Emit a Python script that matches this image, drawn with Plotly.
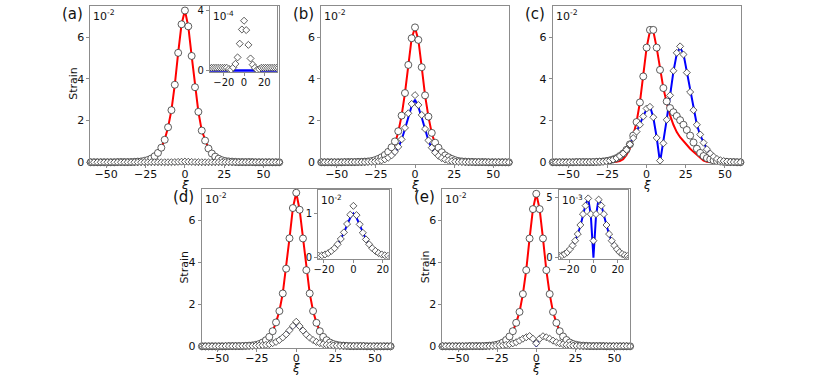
import plotly.graph_objects as go

W, H = 830, 378

# lattice sites (xi), k = -28 .. 28
K = list(range(-28, 29))
XI = [round(2.14 * k, 2) for k in K]

# ---------------- panel (a)  (units 1e-2) ----------------
a_circ = [0, 0, 0, 0, 0, 0, 0, 0, 0.01, 0.01, 0.01, 0.01,
          0.01, 0.02, 0.03, 0.04, 0.07, 0.11, 0.18, 0.29, 0.45, 0.70, 1.08, 1.68, 2.50, 3.72, 5.25, 6.62,
          7.28,
          6.52, 5.10, 3.60, 2.42, 1.52, 1.04, 0.66, 0.42, 0.27, 0.17, 0.10, 0.06, 0.04, 0.03, 0.02, 0.01,
          0.01, 0.01, 0.01, 0.01, 0, 0, 0, 0, 0, 0, 0, 0]
a_red = a_circ
a_blue = [0] * 57
# inset (a) diamonds, units 1e-4
a_diam_ins = [0.18] * 12 + \
    [0.18, 0.18, 0.18, 0.18, 0.18, 0.18, 0.18, 0.18, 0.18, 0.10, 0.05, 0.20, 0.44, 0.87, 1.78, 2.72,
     3.30,
     2.68, 1.70, 0.80, 0.39, 0.18, 0.05, 0.10, 0.18, 0.18, 0.18, 0.18, 0.18, 0.18, 0.18, 0.18, 0.18] + \
    [0.18] * 12

# ---------------- panel (b) ----------------
b_red = [0] * 15 + \
    [0.02, 0.04, 0.07, 0.12, 0.20, 0.33, 0.55, 0.89, 1.45, 2.24, 3.32, 4.67, 5.95,
     6.45,
     5.87, 4.56, 3.21, 2.19, 1.40, 0.87, 0.54, 0.33, 0.20, 0.12, 0.07, 0.04, 0.02] + [0] * 15
b_circ = [0, 0, 0, 0, 0, 0, 0, 0.01, 0.01, 0.01, 0.01, 0.02,
          0.02, 0.03, 0.04, 0.06, 0.10, 0.16, 0.24, 0.35, 0.50, 0.72, 1.00, 1.49, 2.24, 3.32, 4.67, 5.95,
          6.47,
          5.87, 4.56, 3.21, 2.19, 1.41, 0.94, 0.70, 0.48, 0.33, 0.24, 0.16, 0.10, 0.06, 0.04, 0.03, 0.02,
          0.02, 0.01, 0.01, 0.01, 0.01, 0, 0, 0, 0, 0, 0, 0]
b_blue = [0, 0, 0, 0, 0, 0, 0, 0, 0, 0, 0, 0, 0, 0, 0.01, 0.01,
          0.02, 0.03, 0.06, 0.10, 0.16, 0.27, 0.44, 0.70, 1.08, 1.60, 2.20, 2.70,
          3.00,
          2.65, 2.15, 1.55, 1.04, 0.67, 0.42, 0.26, 0.16, 0.10, 0.06, 0.03, 0.02,
          0.01, 0.01, 0, 0, 0, 0, 0, 0, 0, 0, 0, 0, 0, 0, 0, 0]
b_diam = [0, 0, 0, 0, 0, 0, 0, 0, 0, 0.01, 0.01, 0.01, 0.01, 0.01, 0.02, 0.02,
          0.03, 0.05, 0.09, 0.14, 0.22, 0.33, 0.50, 0.74, 1.10, 1.65, 2.35, 2.80,
          3.22,
          2.75, 2.27, 1.60, 1.05, 0.70, 0.47, 0.31, 0.20, 0.13, 0.08, 0.05, 0.03,
          0.02, 0.02, 0.01, 0.01, 0.01, 0.01, 0.01, 0, 0, 0, 0, 0, 0, 0, 0, 0]

# ---------------- panel (c) ----------------
c_red = [0] * 19 + \
    [0.02, 0.06, 0.15, 0.35, 0.68, 1.28, 1.93, 2.87, 4.12,
     5.50,
     6.30, 6.30, 5.50, 4.43, 3.56, 2.85, 2.25, 1.80, 1.45, 1.20, 1.00, 0.82, 0.65, 0.50, 0.35, 0.20,
     0.08, 0.02, 0] + [0] * 9
c_circ = [0, 0, 0, 0, 0, 0, 0, 0.01, 0.01, 0.01, 0.01, 0.01, 0.01, 0.02,
          0.02, 0.04, 0.06, 0.09, 0.14, 0.20, 0.30, 0.42, 0.60, 0.86, 1.28, 1.93, 2.87, 4.12,
          5.50,
          6.35, 6.35, 5.50, 4.43, 3.56, 2.92, 2.60, 2.40, 2.22, 2.02, 1.80, 1.55, 1.28, 0.95, 0.65, 0.45,
          0.30, 0.20, 0.14, 0.09, 0.06, 0.04, 0.02, 0.01,
          0.01, 0.01, 0, 0]
c_blue = [0] * 15 + \
    [0.01, 0.02, 0.04, 0.08, 0.15, 0.25, 0.40, 0.60, 0.86, 1.16, 1.47, 1.80, 2.20,
     2.55,
     2.70, 2.15, 1.20, 0.0, 0.93, 2.05, 3.20, 4.35, 5.20, 5.50, 5.20, 4.35, 3.40, 2.50, 1.80, 1.30,
     0.92, 0.62, 0.40, 0.25, 0.15, 0.09, 0.05, 0.03, 0.01, 0, 0, 0]
c_diam = [0, 0, 0, 0, 0, 0, 0, 0.01, 0.01, 0.01, 0.01, 0.01, 0.02, 0.02, 0.03,
          0.03, 0.05, 0.08, 0.13, 0.20, 0.30, 0.42, 0.60, 0.86, 1.16, 1.47, 1.80, 2.20,
          2.58,
          2.66, 2.16, 1.17, 0.08, 0.91, 2.04, 3.21, 4.39, 5.25, 5.56, 5.17, 4.30, 3.37, 2.50, 1.80, 1.33,
          0.94, 0.63, 0.42, 0.27, 0.16, 0.10, 0.06, 0.04, 0.02, 0.01, 0.01, 0]

# ---------------- panel (d) ----------------
d_circ = [0, 0, 0, 0, 0, 0, 0, 0, 0.01, 0.01, 0.01, 0.01,
          0.01, 0.02, 0.03, 0.04, 0.07, 0.11, 0.18, 0.29, 0.45, 0.72, 1.14, 1.68, 2.52, 3.70, 5.15, 6.59,
          7.32,
          6.51, 5.14, 3.63, 2.52, 1.68, 1.12, 0.72, 0.45, 0.29, 0.18, 0.11, 0.07, 0.04, 0.03, 0.02, 0.01,
          0.01, 0.01, 0.01, 0.01, 0, 0, 0, 0, 0, 0, 0, 0]
d_red = d_circ
d_blue = [0] * 13 + [0.01, 0.01] + \
    [0.01, 0.02, 0.03, 0.05, 0.07, 0.10, 0.14, 0.20, 0.29, 0.41, 0.56, 0.74, 0.90,
     1.00,
     0.90, 0.74, 0.56, 0.41, 0.29, 0.20, 0.14, 0.10, 0.07, 0.05, 0.03, 0.02, 0.01] + \
    [0.01, 0.01] + [0] * 13
d_diam = [0, 0, 0, 0, 0, 0, 0, 0.01, 0.01, 0.01, 0.01, 0.01, 0.02, 0.02, 0.02,
          0.02, 0.03, 0.04, 0.05, 0.07, 0.10, 0.15, 0.21, 0.30, 0.42, 0.57, 0.76, 0.97,
          1.17,
          0.96, 0.75, 0.56, 0.41, 0.30, 0.21, 0.15, 0.10, 0.07, 0.05, 0.04, 0.03, 0.02,
          0.02, 0.02, 0.01, 0.01, 0.01, 0.01, 0.01, 0, 0, 0, 0, 0, 0, 0, 0]

# ---------------- panel (e) ----------------
e_circ = [0, 0, 0, 0, 0, 0, 0, 0, 0.01, 0.01, 0.01, 0.01,
          0.01, 0.02, 0.03, 0.04, 0.07, 0.11, 0.18, 0.30, 0.47, 0.72, 1.12, 1.64, 2.49, 3.63, 5.14, 6.54,
          7.27,
          6.54, 5.14, 3.63, 2.49, 1.64, 1.12, 0.72, 0.47, 0.30, 0.18, 0.11, 0.07, 0.04, 0.03, 0.02, 0.01,
          0.01, 0.01, 0.01, 0.01, 0, 0, 0, 0, 0, 0, 0, 0]
e_red = e_circ
# units 1e-3 (inset); main panel uses /10
e_blue_ins = [0.01] * 13 + \
    [0.04, 0.07, 0.11, 0.18, 0.28, 0.43, 0.65, 0.95, 1.35, 1.90, 2.60, 3.50, 4.40, 4.90, 3.50,
     0.0,
     3.50, 4.90, 4.40, 3.50, 2.60, 1.90, 1.35, 0.95, 0.65, 0.43, 0.28, 0.18, 0.11, 0.07, 0.04] + \
    [0.01] * 13
e_diam_ins = [0.05] * 14 + \
    [0.08, 0.13, 0.20, 0.30, 0.45, 0.70, 1.00, 1.40, 1.95, 2.70, 3.60, 4.30, 4.90, 3.60,
     1.40,
     3.60, 4.80, 4.30, 3.60, 2.70, 1.95, 1.40, 1.00, 0.70, 0.45, 0.30, 0.20, 0.13, 0.08] + \
    [0.05] * 14

FONT = "DejaVu Sans"
RED, BLUE = "#ff0000", "#0000ff"
AXC = "#8c8c8c"

fig = go.Figure()


def add_line(y, color, ax, width=2):
    fig.add_trace(go.Scatter(x=XI, y=y, mode="lines", line=dict(color=color, width=width),
                             xaxis=ax[0], yaxis=ax[1], showlegend=False, hoverinfo="skip"))


def add_marks(y, symbol, ax, clip):
    size = 7 if symbol == "circle" else 5.4
    fig.add_trace(go.Scatter(x=XI, y=y, mode="markers",
                             marker=dict(symbol=symbol, size=size, color="white",
                                         line=dict(color="#333333", width=0.8)),
                             cliponaxis=clip, xaxis=ax[0], yaxis=ax[1],
                             showlegend=False, hoverinfo="skip"))


panels = [
    (("x", "y"), a_red, a_blue, a_circ, [v / 100 for v in a_diam_ins]),
    (("x2", "y2"), b_red, b_blue, b_circ, b_diam),
    (("x3", "y3"), c_red, c_blue, c_circ, c_diam),
    (("x4", "y4"), d_red, d_blue, d_circ, d_diam),
    (("x5", "y5"), e_red, [v / 10 for v in e_blue_ins], e_circ, [v / 10 for v in e_diam_ins]),
]
for ax, red, blue, circ, diam in panels:
    add_line(red, RED, ax)
    add_line(blue, BLUE, ax)
    add_marks(circ, "circle", ax, False)
    add_marks(diam, "diamond", ax, False)

# insets
add_line(a_blue, BLUE, ("x6", "y6"), width=2.5)
add_marks(a_diam_ins, "diamond", ("x6", "y6"), True)
add_line(d_blue, BLUE, ("x7", "y7"))
add_marks(d_diam, "diamond", ("x7", "y7"), True)
add_line(e_blue_ins, BLUE, ("x8", "y8"))
add_marks(e_diam_ins, "diamond", ("x8", "y8"), True)


def fx(px):
    return px / W


def fy(py):
    return 1 - py / H


def axis(domain, rng, tickvals, size=11):
    return dict(domain=domain, range=rng, tickvals=tickvals, showline=True, mirror=True,
                linecolor=AXC, linewidth=1, ticks="outside", ticklen=3, tickcolor=AXC,
                showgrid=False, zeroline=False, fixedrange=True,
                tickfont=dict(family=FONT, size=size, color="#111111"))


# main panel boxes in pixel coords: (left, right, top, bottom)
boxes = [(86, 276, 5, 166), (318, 507, 5, 166), (551, 740, 5, 166),
         (198, 388, 191, 353), (440, 629, 191, 353)]
layout = {}
for i, (l, r, t, b) in enumerate(boxes, start=1):
    sfx = "" if i == 1 else str(i)
    layout["xaxis" + sfx] = axis([fx(l), fx(r)], [-60, 60], [-50, -25, 0, 25, 50])
    layout["xaxis" + sfx]["anchor"] = "y" + sfx
    layout["xaxis" + sfx]["ticklabelstandoff"] = -4
    layout["yaxis" + sfx] = axis([fy(b), fy(t)], [-0.1, 7.5], [0, 2, 4, 6])
    layout["yaxis" + sfx]["anchor"] = "x" + sfx

insets = [
    (6, (206, 274, 5, 72.5), [-34, 33], [-0.12, 4.28], [0, 4]),
    (7, (315, 386, 192, 262), [-24, 24], [-0.03, 1.53], [0, 1]),
    (8, (557, 627, 192, 262), [-28.5, 28.5], [-0.1, 5.6], [0, 5]),
]
for n, (l, r, t, b), xr, yr, yt in insets:
    layout[f"xaxis{n}"] = axis([fx(l), fx(r)], xr, [-20, 0, 20], size=10)
    layout[f"xaxis{n}"]["anchor"] = f"y{n}"
    layout[f"xaxis{n}"]["ticklabelstandoff"] = -2
    layout[f"yaxis{n}"] = axis([fy(b), fy(t)], yr, yt, size=10)
    layout[f"yaxis{n}"]["anchor"] = f"x{n}"

fig.update_layout(**layout)

ann = []


def text(x, y, s, size=11, italic=False, angle=0, xanchor="center"):
    ann.append(dict(x=fx(x), y=fy(y), xref="paper", yref="paper", text=s, showarrow=False,
                    xanchor=xanchor, yanchor="middle", textangle=angle,
                    font=dict(family=FONT, size=size, color="#111111",
                              style="italic" if italic else "normal")))


for idx, (lab, (l, r, t, b)) in enumerate(zip(["(a)", "(b)", "(c)", "(d)", "(e)"], boxes)):
    text(l - 18, t + 8, lab, size=15)
    text(l + 1, t + 10, "10<sup>-2</sup>", size=11, xanchor="left")
    text((l + r) / 2, b + (21 if idx < 3 else 20), "ξ", size=12, italic=True)

for (l, r, t, b) in [boxes[0], boxes[3], boxes[4]]:
    text(l - 17, (t + b) / 2 - 2, "Strain", size=11, angle=-90)

text(207, 15, "10<sup>-4</sup>", size=10.5, xanchor="left")
text(316, 202, "10<sup>-2</sup>", size=10.5, xanchor="left")
text(558, 202, "10<sup>-3</sup>", size=10.5, xanchor="left")

fig.update_layout(annotations=ann, width=W, height=H, autosize=False,
                  margin=dict(l=0, r=0, t=0, b=0),
                  paper_bgcolor="white", plot_bgcolor="white",
                  font=dict(family=FONT, size=11, color="#111111"))

fig.write_html("out.html", config={"displayModeBar": False},
               post_script="document.body.style.margin='0';document.body.style.overflow='hidden';")
